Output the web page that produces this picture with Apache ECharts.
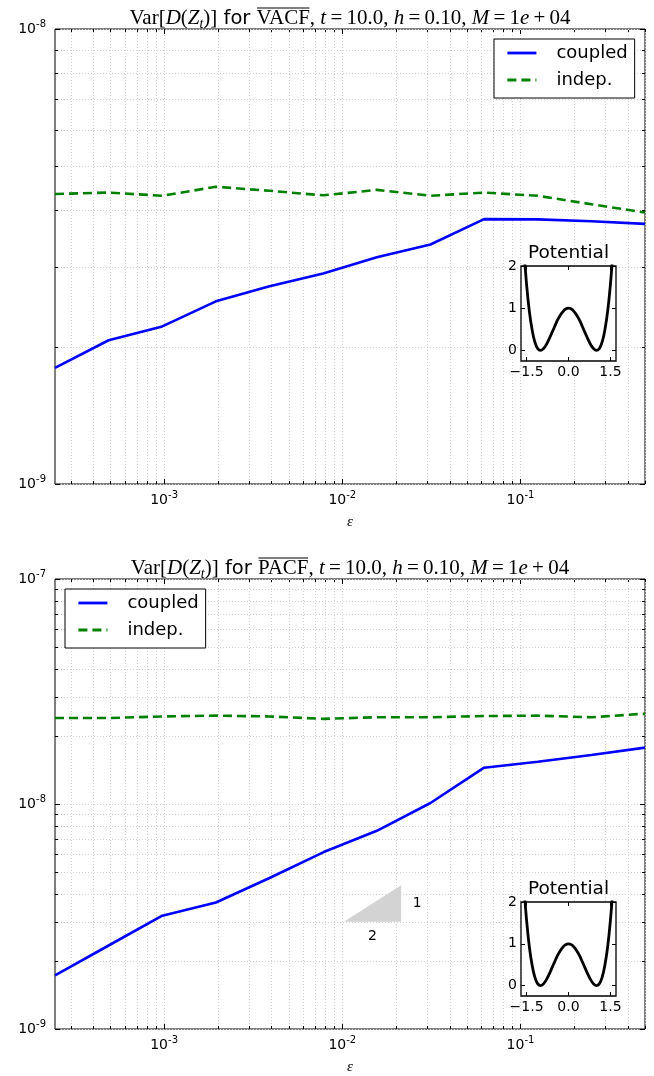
<!DOCTYPE html>
<html>
<head>
<meta charset="utf-8">
<script src="https://cdn.jsdelivr.net/npm/echarts@6/dist/echarts.min.js"></script>
<style>
  html, body { margin: 0; padding: 0; background: #fff; }
  #chart { width: 654px; height: 1076px; }
</style>
</head>
<body>
<div id="chart"></div>
<script>
// ---- data ----
const eps = [0.000244140625, 0.00048828125, 0.0009765625, 0.001953125, 0.00390625,
             0.0078125, 0.015625, 0.03125, 0.0625, 0.125, 0.25, 0.5];

const vacfCoupled = [1.80e-9, 2.07e-9, 2.22e-9, 2.52e-9, 2.72e-9, 2.90e-9,
                     3.15e-9, 3.36e-9, 3.82e-9, 3.815e-9, 3.78e-9, 3.73e-9];
const vacfIndep   = [4.34e-9, 4.37e-9, 4.30e-9, 4.50e-9, 4.41e-9, 4.31e-9,
                     4.43e-9, 4.30e-9, 4.37e-9, 4.30e-9, 4.12e-9, 3.95e-9];

const pacfCoupled = [1.73e-9, 2.35e-9, 3.19e-9, 3.65e-9, 4.69e-9, 6.10e-9,
                     7.60e-9, 1.01e-8, 1.45e-8, 1.54e-8, 1.65e-8, 1.78e-8];
const pacfIndep   = [2.41e-8, 2.41e-8, 2.45e-8, 2.47e-8, 2.45e-8, 2.39e-8,
                     2.43e-8, 2.43e-8, 2.46e-8, 2.47e-8, 2.43e-8, 2.52e-8];

// double-well potential shown in the insets
const potX = [-1.6, -1.5, -1.4, -1.3, -1.2, -1.1, -1.0, -0.9, -0.8, -0.7, -0.6, -0.5, -0.4, -0.3, -0.2, -0.1,
              0.0, 0.1, 0.2, 0.3, 0.4, 0.5, 0.6, 0.7, 0.8, 0.9, 1.0, 1.1, 1.2, 1.3, 1.4, 1.5, 1.6];
const potV = [2.43, 1.56, 0.92, 0.48, 0.19, 0.04, 0.0, 0.04, 0.13, 0.26, 0.41, 0.56, 0.71, 0.83, 0.92, 0.98,
              1.0, 0.98, 0.92, 0.83, 0.71, 0.56, 0.41, 0.26, 0.13, 0.04, 0.0, 0.04, 0.19, 0.48, 0.92, 1.56, 2.43];
const potXTicks = [-1.5, 0, 1.5];
const potYTicks = [0, 1, 2];

// slope-1/2 reference triangle (PACF panel)
const slopeX = [0.0102, 0.0214, 0.0214];
const slopeY = [3.0e-9, 3.0e-9, 4.35e-9];
const slopeLabels = ['1', '2'];

const seriesNames = ['coupled', 'indep.'];
const titleNames = ['VACF', 'PACF'];

// log-axis tick positions (decades and 2..9 sub-decades)
function logTicks(lo, hi) {
  const out = [];
  for (let e = Math.floor(Math.log10(lo)) - 1; e <= Math.ceil(Math.log10(hi)); e++) {
    for (let k = 1; k <= 9; k++) {
      const v = k * Math.pow(10, e);
      if (v >= lo * 0.9999 && v <= hi * 1.0001) out.push([v, k === 1 ? 1 : 0]);
    }
  }
  return out;
}

// ---- styling ----
const SANS = "'DejaVu Sans', sans-serif";
const SERIF = "'Liberation Serif', serif";
const BLUE = '#0000ff';
const GREEN = '#008000';

const mainGrids = [
  { left: 55, top: 29, width: 590, height: 455 },
  { left: 55, top: 579, width: 590, height: 455 }
];
const insetGrids = [
  { left: 521, top: 266, width: 95, height: 95 },
  { left: 521, top: 902, width: 95, height: 94 }
];
const yRanges = [[1e-9, 1e-8], [1e-9, 1e-7]];

const powRich = {
  b: { fontFamily: SANS, fontSize: 14, lineHeight: 20, color: '#000' },
  s: { fontFamily: SANS, fontSize: 10, lineHeight: 10, verticalAlign: 'top', color: '#000' }
};
function powLabel(v) {
  const l = Math.log10(v);
  const e = Math.round(l);
  if (Math.abs(l - e) > 1e-6) return '';
  return '{b|10}{s|' + e + '}';
}
function signedLabel(v) {
  return (v < 0 ? '\u2212' : '') + Math.abs(v).toFixed(1);
}

function mainX(gi) {
  return {
    type: 'log', logBase: 10, gridIndex: gi, min: eps[0], max: eps[eps.length - 1],
    axisLine: { show: false, onZero: false }, axisTick: { show: false }, splitLine: { show: false },
    axisLabel: { formatter: powLabel, rich: powRich, margin: 6, interval: 0, showMinLabel: false, showMaxLabel: false },
    name: '\u03b5', nameLocation: 'middle', nameGap: 31,
    nameTextStyle: { fontFamily: SERIF, fontStyle: 'italic', fontSize: 15, color: '#000' }
  };
}
function mainY(gi) {
  return {
    type: 'log', logBase: 10, gridIndex: gi, min: yRanges[gi][0], max: yRanges[gi][1], interval: 1,
    axisLine: { show: false, onZero: false }, axisTick: { show: false }, splitLine: { show: false },
    axisLabel: { formatter: powLabel, rich: powRich, margin: 9 }
  };
}
function insetX(gi, pos, labels) {
  return {
    type: 'value', gridIndex: gi, position: pos, min: -1.7, max: 1.7, z: 4,
    axisLine: { show: false, onZero: false }, splitLine: { show: false },
    axisTick: { show: true, inside: true, length: 4, customValues: potXTicks, lineStyle: { color: '#000', width: 1 } },
    axisLabel: { show: labels, customValues: potXTicks, margin: 4, formatter: signedLabel,
                 fontFamily: SANS, fontSize: 14, color: '#000' }
  };
}
function insetY(gi, pos, labels) {
  return {
    type: 'value', gridIndex: gi, position: pos, min: -0.25, max: 2, z: 4,
    axisLine: { show: false, onZero: false }, splitLine: { show: false },
    axisTick: { show: true, inside: true, length: 4, customValues: potYTicks, lineStyle: { color: '#000', width: 1 } },
    axisLabel: { show: labels, customValues: potYTicks, margin: 4, formatter: v => String(v),
                 fontFamily: SANS, fontSize: 14, color: '#000' }
  };
}

// dotted grid lines plus inward ticks on all four sides of a main panel
function renderDecor(params, api) {
  const cs = params.coordSys;
  const p = api.coord([api.value(0), api.value(1)]);
  const isY = api.value(2) === 1;
  const len = api.value(3) === 1 ? 5 : 3;
  const tick = { stroke: '#000', lineWidth: 1 };
  const dots = { stroke: '#d2d2d2', lineWidth: 1, lineDash: [1, 2] };
  if (!isY) {
    const x = Math.round(p[0]) + 0.5;
    const y0 = cs.y, y1 = cs.y + cs.height;
    return { type: 'group', children: [
      { type: 'line', shape: { x1: x, y1: y0, x2: x, y2: y1 }, style: dots },
      { type: 'line', shape: { x1: x, y1: y1, x2: x, y2: y1 - len }, style: tick },
      { type: 'line', shape: { x1: x, y1: y0, x2: x, y2: y0 + len }, style: tick }
    ] };
  }
  const y = Math.round(p[1]) + 0.5;
  const x0 = cs.x, x1 = cs.x + cs.width;
  return { type: 'group', children: [
    { type: 'line', shape: { x1: x0, y1: y, x2: x1, y2: y }, style: dots },
    { type: 'line', shape: { x1: x0, y1: y, x2: x0 + len, y2: y }, style: tick },
    { type: 'line', shape: { x1: x1, y1: y, x2: x1 - len, y2: y }, style: tick }
  ] };
}
function decorData(gi) {
  const d = [];
  logTicks(eps[0], eps[eps.length - 1]).forEach(t => d.push([t[0], yRanges[gi][0], 0, t[1]]));
  logTicks(yRanges[gi][0], yRanges[gi][1]).forEach(t => d.push([eps[0], t[0], 1, t[1]]));
  return d;
}

function renderSlope(params, api) {
  const a = api.coord([slopeX[0], slopeY[0]]);
  const b = api.coord([slopeX[1], slopeY[1]]);
  const c = api.coord([slopeX[2], slopeY[2]]);
  const txt = { fontFamily: SANS, fontSize: 14, fill: '#000', align: 'center', verticalAlign: 'middle' };
  return { type: 'group', children: [
    { type: 'polygon', shape: { points: [a, b, c] }, style: { fill: '#d3d3d3' } },
    { type: 'text', x: b[0] + 16, y: (b[1] + c[1]) / 2, style: Object.assign({ text: slopeLabels[0] }, txt) },
    { type: 'text', x: (a[0] + b[0]) / 2, y: a[1] + 15, style: Object.assign({ text: slopeLabels[1] }, txt) }
  ] };
}

// ---- titles with mathtext-like pieces ----
const titleRich = {
  s:   { fontFamily: SERIF, fontSize: 21, lineHeight: 26, color: '#000' },
  ov:  { fontFamily: SERIF, fontSize: 21, lineHeight: 26, color: '#000' },
  i:   { fontFamily: SERIF, fontStyle: 'italic', fontSize: 21, lineHeight: 26, color: '#000' },
  sub: { fontFamily: SERIF, fontStyle: 'italic', fontSize: 14, lineHeight: 14, verticalAlign: 'bottom', color: '#000' },
  f:   { fontFamily: SANS, fontSize: 19.5, lineHeight: 26, color: '#000' }
};
function titlePieces(name) {
  return [
    ['s', 'Var['], ['i', 'D'], ['s', '('], ['i', 'Z'], ['sub', 't'], ['s', ')]'], ['f', ' for '],
    ['ov', name], ['s', ', '], ['i', 't'], ['s', '\u2009=\u200910.0, '], ['i', 'h'],
    ['s', '\u2009=\u20090.10, '], ['i', 'M'], ['s', '\u2009=\u20091'], ['i', 'e'], ['s', '\u2009+\u200904']
  ];
}
const mctx = document.createElement('canvas').getContext('2d');
function textWidth(st, str) {
  mctx.font = (st.fontStyle || 'normal') + ' normal ' + st.fontSize + 'px ' + st.fontFamily;
  return mctx.measureText(str).width;
}
function titleElements(name, cx, cy) {
  const pieces = titlePieces(name);
  let total = 0, ovStart = 0, ovEnd = 0;
  pieces.forEach(p => {
    const w = textWidth(titleRich[p[0]], p[1]);
    if (p[0] === 'ov') { ovStart = total; ovEnd = total + w; }
    total += w;
  });
  const left = cx - total / 2;
  return [
    { type: 'text', x: cx, y: cy, z: 10,
      style: { text: pieces.map(p => '{' + p[0] + '|' + p[1] + '}').join(''), rich: titleRich,
               align: 'center', verticalAlign: 'middle', textAlign: 'center', textVerticalAlign: 'middle' } },
    { type: 'line', z: 10, shape: { x1: left + ovStart + 0.5, y1: cy - 10.5, x2: left + ovEnd - 0.5, y2: cy - 10.5 },
      style: { stroke: '#000', lineWidth: 1.1 } }
  ];
}

const graphics = [];
mainGrids.forEach((g, i) => {
  titleElements(titleNames[i], g.left + g.width / 2, g.top - 10.5).forEach(e => graphics.push(e));
});
insetGrids.forEach(g => {
  graphics.push({ type: 'text', x: g.left + g.width / 2, y: g.top - 13, z: 10,
    style: { text: 'Potential', fontFamily: SANS, fontSize: 18.5, fill: '#000',
             align: 'center', verticalAlign: 'middle', textAlign: 'center', textVerticalAlign: 'middle' } });
});

function legendAt(left, top) {
  return {
    orient: 'vertical', left: left, top: top, data: seriesNames,
    padding: [4, 7, 8, 12], itemGap: 7, itemWidth: 29, itemHeight: 14,
    borderColor: '#000', borderWidth: 1, borderRadius: 0, backgroundColor: '#fff', z: 8,
    selectedMode: false,
    itemStyle: { color: 'rgba(0,0,0,0)', borderWidth: 0, opacity: 0 },
    lineStyle: { width: 2.8 },
    textStyle: { fontFamily: SANS, fontSize: 18, color: '#000', lineHeight: 20, padding: [0, 0, 0, 15] }
  };
}

function lineSeries(name, xi, values, color, dashed) {
  return {
    type: 'line', name: name, xAxisIndex: xi, yAxisIndex: xi, z: 2,
    data: eps.map((x, k) => [x, values[k]]),
    symbol: 'none', showSymbol: false,
    lineStyle: { color: color, width: 2.6, type: dashed ? [9, 5] : 'solid' },
    itemStyle: { color: color }
  };
}
function potSeries(xi) {
  return {
    type: 'line', xAxisIndex: xi, yAxisIndex: xi, z: 5, clip: true,
    data: potX.map((x, k) => [x, potV[k]]),
    symbol: 'none', smooth: 0.35,
    lineStyle: { color: '#000', width: 2.8 }
  };
}

const option = {
  animation: false,
  backgroundColor: '#fff',
  grid: [
    Object.assign({ show: true, borderColor: '#000', borderWidth: 1, backgroundColor: '#fff', z: 0 }, mainGrids[0]),
    Object.assign({ show: true, borderColor: '#000', borderWidth: 1, backgroundColor: '#fff', z: 0 }, mainGrids[1]),
    Object.assign({ show: true, borderColor: '#000', borderWidth: 1.3, backgroundColor: '#fff', z: 3 }, insetGrids[0]),
    Object.assign({ show: true, borderColor: '#000', borderWidth: 1.3, backgroundColor: '#fff', z: 3 }, insetGrids[1])
  ],
  xAxis: [mainX(0), mainX(1), insetX(2, 'bottom', true), insetX(2, 'top', false), insetX(3, 'bottom', true), insetX(3, 'top', false)],
  yAxis: [mainY(0), mainY(1), insetY(2, 'left', true), insetY(2, 'right', false), insetY(3, 'left', true), insetY(3, 'right', false)],
  legend: [legendAt(494, 39), legendAt(65, 589)],
  graphic: graphics,
  series: [
    { type: 'custom', xAxisIndex: 0, yAxisIndex: 0, z: 1, silent: true, clip: false, renderItem: renderDecor, data: decorData(0) },
    { type: 'custom', xAxisIndex: 1, yAxisIndex: 1, z: 1, silent: true, clip: false, renderItem: renderDecor, data: decorData(1) },
    lineSeries(seriesNames[0], 0, vacfCoupled, BLUE, false),
    lineSeries(seriesNames[1], 0, vacfIndep, GREEN, true),
    lineSeries(seriesNames[0], 1, pacfCoupled, BLUE, false),
    lineSeries(seriesNames[1], 1, pacfIndep, GREEN, true),
    { type: 'custom', xAxisIndex: 1, yAxisIndex: 1, z: 2, silent: true, clip: false, renderItem: renderSlope,
      data: [[slopeX[0], slopeY[0]]] },
    potSeries(2),
    potSeries(4)
  ]
};

const chart = echarts.init(document.getElementById('chart'), null, { renderer: 'canvas' });
chart.setOption(option);
</script>
</body>
</html>
